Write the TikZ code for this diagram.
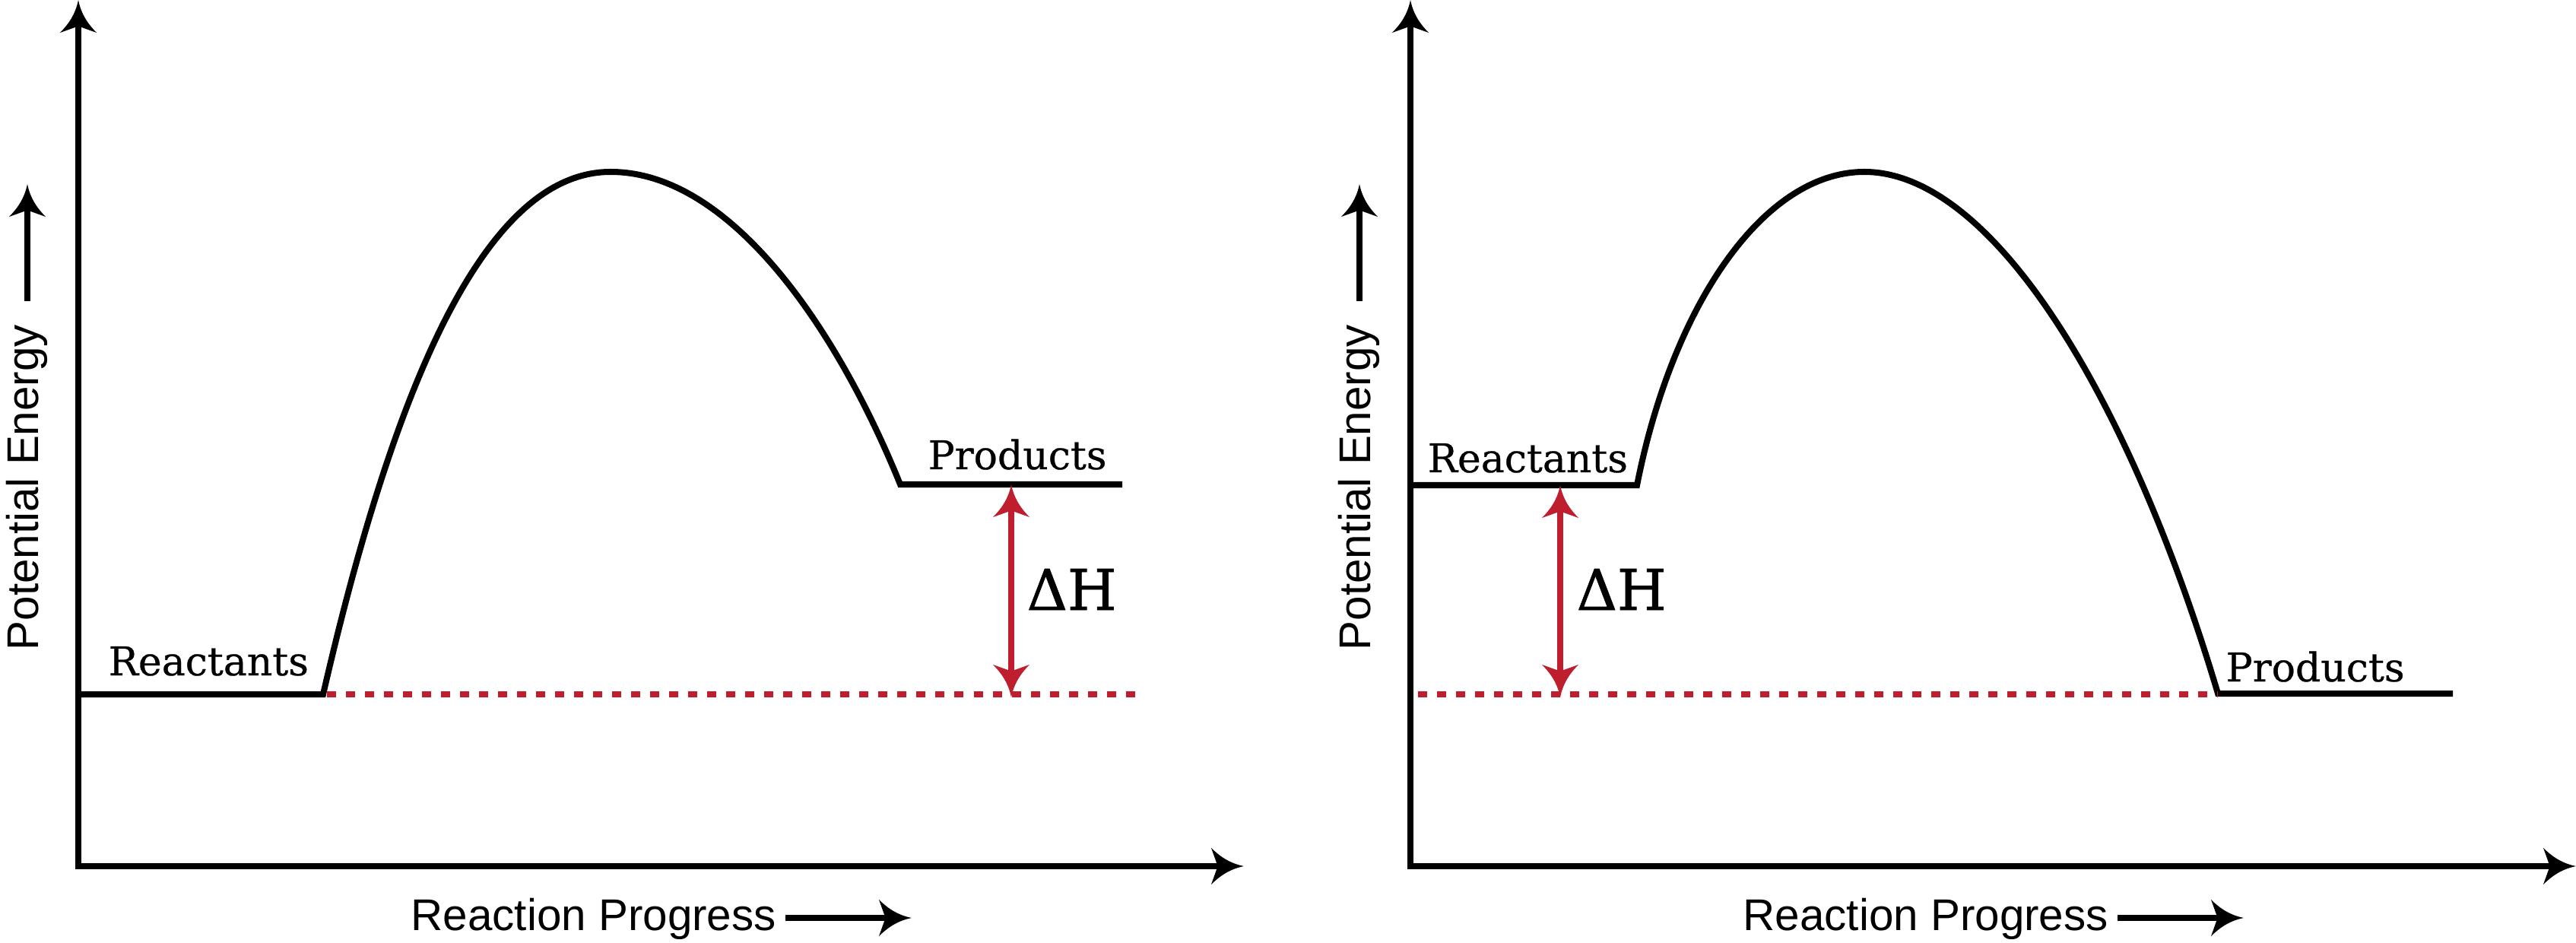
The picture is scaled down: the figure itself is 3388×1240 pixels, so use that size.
\documentclass[tikz,border=0pt]{standalone}
\usepackage{fontspec}
\setmainfont{DejaVu Serif}
\newfontfamily\slabfont[UprightFeatures={FakeBold=0.5}]{DejaVu Serif}
\newfontfamily\dhfont[UprightFeatures={FakeBold=1.2}]{DejaVu Serif}
\newfontfamily\axisfont{Liberation Sans}
\usetikzlibrary{arrows.meta}
\definecolor{dhred}{HTML}{BE1E2D}

\pgfdeclarearrow{
  name = Barb,
  parameters = {\the\pgfarrowlength,\the\pgfarrowwidth},
  setup code = {
    \pgfarrowssettipend{0pt}
    \pgfarrowssetlineend{-0.6\pgfarrowlength}
    \pgfarrowssetbackend{-\pgfarrowlength}
    \pgfarrowssavethe\pgfarrowlength
    \pgfarrowssavethe\pgfarrowwidth
  },
  drawing code = {
    \pgfpathmoveto{\pgfqpoint{0pt}{0pt}}
    \pgfpathcurveto{\pgfqpoint{-0.45\pgfarrowlength}{0.08\pgfarrowwidth}}{\pgfqpoint{-0.75\pgfarrowlength}{0.28\pgfarrowwidth}}{\pgfqpoint{-\pgfarrowlength}{0.5\pgfarrowwidth}}
    \pgfpathlineto{\pgfqpoint{-0.8\pgfarrowlength}{0pt}}
    \pgfpathlineto{\pgfqpoint{-\pgfarrowlength}{-0.5\pgfarrowwidth}}
    \pgfpathcurveto{\pgfqpoint{-0.75\pgfarrowlength}{-0.28\pgfarrowwidth}}{\pgfqpoint{-0.45\pgfarrowlength}{-0.08\pgfarrowwidth}}{\pgfqpoint{0pt}{0pt}}
    \pgfpathclose
    \pgfusepathqfill
  },
  defaults = {length = 0.43cm, width = 0.48cm}
}

\tikzset{
  axisline/.style={line width=0.08cm, black},
  energy/.style={line width=0.08cm, black},
  baseline/.style={line width=0.08cm, dhred, dash pattern=on 0.12cm off 0.13cm},
  dharrow/.style={line width=0.08cm, dhred, {Barb}-{Barb}},
  lvl/.style={inner sep=0pt, anchor=base west, font=\slabfont\fontsize{14.8pt}{17pt}\selectfont},
  dhlbl/.style={inner sep=0pt, anchor=base west, font=\dhfont\fontsize{21pt}{24pt}\selectfont},
  axlbl/.style={inner sep=0pt, anchor=base west, font=\axisfont\fontsize{16.6pt}{19pt}\selectfont}
}

\begin{document}
\begin{tikzpicture}[x=0.01cm, y=-0.01cm]
\useasboundingbox (0,0) rectangle (3388,1240);

% ================= LEFT PANEL =================
\coordinate (LYtip) at (103,0);
\coordinate (LXtip) at (1636,1139);
\draw[axisline, {Barb}-{Barb}] (LYtip) |- (LXtip);

\coordinate (LRa) at (103,913);
\coordinate (LRb) at (425,913);
\coordinate (LPk) at (803,226);
\coordinate (LPa) at (1184,637);
\coordinate (LPb) at (1476,637);
\draw[energy] (LRa) -- (LRb) .. controls (520,500) and (640,226) .. (LPk)
  .. controls (960,226) and (1100,430) .. (LPa) -- (LPb);

\coordinate (LDa) at (430,913);
\coordinate (LDb) at (1493,913);
\draw[baseline] (LDa) -- (LDb);

\coordinate (LHb) at (1330,917);
\coordinate (LHt) at (1330,637);
\draw[dharrow] (LHb) -- (LHt);

\node[lvl] (lreact) at (142,888) {Reactants};
\node[lvl] (lprod) at (1220,617) {Products};
\node[dhlbl] (ldh) at (1350,802) {ΔH};

\node[axlbl, rotate=90] (lpe) at (50,856) {Potential Energy};
\coordinate (LPEa) at (36,396);
\coordinate (LPEb) at (36,242);
\draw[axisline, -{Barb}] (LPEa) -- (LPEb);

\node[axlbl] (lrp) at (540,1223) {Reaction Progress};
\coordinate (LRPa) at (1033,1207);
\coordinate (LRPb) at (1199,1207);
\draw[axisline, -{Barb}] (LRPa) -- (LRPb);

% ================= RIGHT PANEL =================
\coordinate (RYtip) at (1855,0);
\coordinate (RXtip) at (3388,1139);
\draw[axisline, {Barb}-{Barb}] (RYtip) |- (RXtip);

\coordinate (RRa) at (1855,638);
\coordinate (RRb) at (2153,638);
\coordinate (RPk) at (2452,226);
\coordinate (RPa) at (2917,912);
\coordinate (RPb) at (3226,912);
\draw[energy] (RRa) -- (RRb) .. controls (2200,400) and (2320,226) .. (RPk)
  .. controls (2620,226) and (2800,520) .. (RPa) -- (RPb);

\coordinate (RDa) at (1865,913);
\coordinate (RDb) at (2917,913);
\draw[baseline] (RDa) -- (RDb);

\coordinate (RHb) at (2052,917);
\coordinate (RHt) at (2052,638);
\draw[dharrow] (RHb) -- (RHt);

\node[lvl] (rreact) at (1877,621) {Reactants};
\node[lvl] (rprod) at (2927,896) {Products};
\node[dhlbl] (rdh) at (2073,802) {ΔH};

\node[axlbl, rotate=90] (rpe) at (1802,856) {Potential Energy};
\coordinate (RPEa) at (1788,396);
\coordinate (RPEb) at (1788,242);
\draw[axisline, -{Barb}] (RPEa) -- (RPEb);

\node[axlbl] (rrp) at (2292,1223) {Reaction Progress};
\coordinate (RRPa) at (2785,1207);
\coordinate (RRPb) at (2951,1207);
\draw[axisline, -{Barb}] (RRPa) -- (RRPb);
\end{tikzpicture}
\end{document}
